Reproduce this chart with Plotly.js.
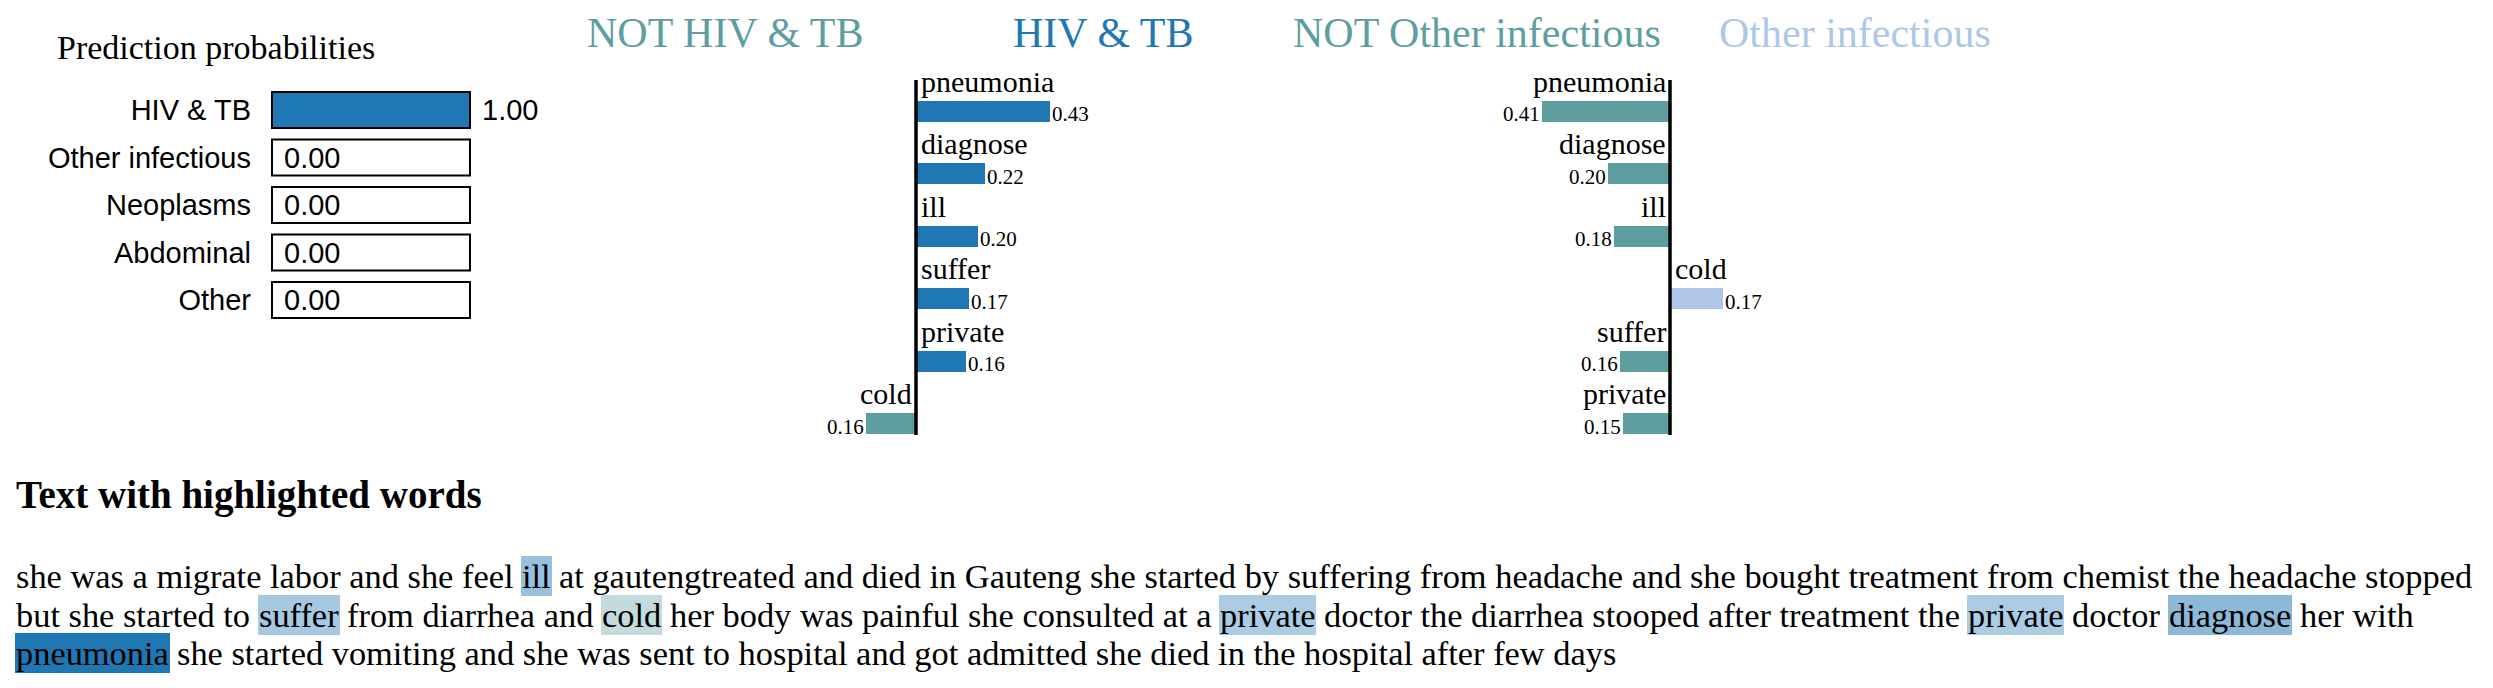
<!DOCTYPE html>
<html><head><meta charset="utf-8">
<script src="https://cdn.plot.ly/plotly-3.0.1.min.js"></script>
<style>html,body{margin:0;padding:0;background:#fff;overflow:hidden}#chart{width:2493px;height:688px;}</style>
</head><body><div id="chart"></div>
<script>
// ---------------- data ----------------
const classNames = ['HIV & TB', 'Other infectious', 'Neoplasms', 'Abdominal', 'Other'];
const classProbs = [1.00, 0.00, 0.00, 0.00, 0.00];

const hivTitles = ['NOT HIV & TB', 'HIV & TB'];
const hivWords = ['pneumonia', 'diagnose', 'ill', 'suffer', 'private', 'cold'];
const hivWeights = [0.43, 0.22, 0.20, 0.17, 0.16, -0.16];

const otherTitles = ['NOT Other infectious', 'Other infectious'];
const otherWords = ['pneumonia', 'diagnose', 'ill', 'cold', 'suffer', 'private'];
const otherWeights = [-0.41, -0.20, -0.18, 0.17, -0.16, -0.15];

const probTitle = 'Prediction probabilities';
const textTitle = 'Text with highlighted words';
const textLines = [
  'she was a migrate labor and she feel ill at gautengtreated and died in Gauteng she started by suffering from headache and she bought treatment from chemist the headache stopped',
  'but she started to suffer from diarrhea and cold her body was painful she consulted at a private doctor the diarrhea stooped after treatment the private doctor diagnose her with',
  'pneumonia she started vomiting and she was sent to hospital and got admitted she died in the hospital after few days'
];

// ---------------- styling / layout helpers ----------------
const W = 2493, H = 688;
const BLUE = '#1f77b4', TEAL = '#5f9ea0', LIGHT = '#aec7e8';
const SERIF = 'Liberation Serif', SANS = 'Liberation Sans';
const px2x = p => p / W;
const px2y = p => 1 - p / H;

// prediction probabilities block
const probBox = {left: 272, right: 470, top: 86, bottom: 324, firstCenter: 110, pitch: 47.5, barH: 36};
// explanation charts
const rows = {top: 80, bottom: 435, firstCenter: 111.5, pitch: 62.4, barH: 21};
const pxPerUnit = 312;
const chartA = {left: 600, right: 1230, zero: 916};
const chartB = {left: 1350, right: 1990, zero: 1670};

const traces = [];
const annotations = [];
const shapes = [];

// ---- prediction probabilities ----
traces.push({
  type: 'bar', orientation: 'h', x: classProbs, y: classNames,
  xaxis: 'x', yaxis: 'y', width: probBox.barH / probBox.pitch,
  marker: {color: BLUE, line: {color: '#000', width: 2}},
  hoverinfo: 'skip'
});
classNames.forEach((c, i) => {
  const hw = probBox.barH / probBox.pitch / 2;
  shapes.push({type: 'rect', layer: 'below', xref: 'x domain', yref: 'y',
    x0: 0, x1: 1, y0: i - hw, y1: i + hw,
    line: {color: '#000', width: 2}, fillcolor: '#fff'});
  annotations.push({xref: 'x', yref: 'y', x: classProbs[i], y: c, xanchor: 'left', yanchor: 'middle',
    xshift: 12, text: classProbs[i].toFixed(2), showarrow: false, borderpad: 0, borderwidth: 0,
    font: {family: SANS, size: 29, color: '#000'}});
});
annotations.push({xref: 'paper', yref: 'paper', x: px2x(57), y: px2y(59 + 0.216 * 34),
  xanchor: 'left', yanchor: 'bottom', text: probTitle, showarrow: false, borderpad: 0, borderwidth: 0,
  font: {family: SERIF, size: 34, color: '#000'}});

// ---- explanation charts ----
function explChart(words, weights, titles, posColor, negColor, ax, ay, pos) {
  traces.push({
    type: 'bar', orientation: 'h', x: weights, y: words,
    xaxis: ax, yaxis: ay, width: rows.barH / rows.pitch,
    marker: {color: weights.map(w => w >= 0 ? posColor : negColor), line: {width: 0}},
    hoverinfo: 'skip'
  });
  shapes.push({type: 'line', xref: ax, yref: ay + ' domain', x0: 0, x1: 0, y0: 0, y1: 1,
    line: {color: '#000', width: 3.5}});
  words.forEach((w, i) => {
    const v = weights[i];
    const positive = v >= 0;
    annotations.push({xref: ax, yref: ay, x: 0, y: w, xanchor: positive ? 'left' : 'right',
      yanchor: 'bottom', xshift: positive ? 5 : -4, yshift: 13.5, text: w, showarrow: false,
      borderpad: 0, borderwidth: 0, font: {family: SERIF, size: 30, color: '#000'}});
    annotations.push({xref: ax, yref: ay, x: v, y: w, xanchor: positive ? 'left' : 'right',
      yanchor: 'bottom', xshift: positive ? 2 : -2, yshift: -15, text: Math.abs(v).toFixed(2),
      showarrow: false, borderpad: 0, borderwidth: 0, font: {family: SERIF, size: 21, color: '#000'}});
  });
  const ty = px2y(47 + 0.216 * 42);
  annotations.push({xref: 'paper', yref: 'paper', x: px2x(pos[0]), y: ty, xanchor: 'left', yanchor: 'bottom',
    text: titles[0], showarrow: false, borderpad: 0, borderwidth: 0,
    font: {family: SERIF, size: 42, color: negColor}});
  annotations.push({xref: 'paper', yref: 'paper', x: px2x(pos[1]), y: ty, xanchor: 'left', yanchor: 'bottom',
    text: titles[1], showarrow: false, borderpad: 0, borderwidth: 0,
    font: {family: SERIF, size: 42, color: posColor}});
}
explChart(hivWords, hivWeights, hivTitles, BLUE, TEAL, 'x2', 'y2', [587, 1013]);
explChart(otherWords, otherWeights, otherTitles, LIGHT, TEAL, 'x3', 'y3', [1293, 1719]);

// ---- text with highlighted words ----
annotations.push({xref: 'paper', yref: 'paper', x: px2x(16), y: px2y(509 + 0.216 * 39),
  xanchor: 'left', yanchor: 'bottom', text: textTitle, showarrow: false, borderpad: 0, borderwidth: 0,
  font: {family: SERIF, size: 39, color: '#000', weight: 'bold'}});

const bodySize = 34.4, bodyLeft = 16, firstBaseline = 588, lineHeight = 38.5;
const ctx = document.createElement('canvas').getContext('2d');
ctx.font = bodySize + 'px "' + SERIF + '"';
const measure = s => ctx.measureText(s).width;
const maxAbs = Math.max(...hivWeights.map(Math.abs));
const weightOf = {};
hivWords.forEach((w, i) => weightOf[w] = hivWeights[i]);
function hlColor(v) {
  const a = (Math.abs(v) / maxAbs).toFixed(3);
  return v >= 0 ? 'rgba(31,119,180,' + a + ')' : 'rgba(95,158,160,' + a + ')';
}
textLines.forEach((line, li) => {
  const base = firstBaseline + li * lineHeight;
  const desc = 0.216 * bodySize;
  const words = line.split(' ');
  let prefix = '', runStart = '', run = [];
  const flush = () => {
    if (run.length) {
      annotations.push({xref: 'paper', yref: 'paper', x: px2x(bodyLeft + measure(runStart)),
        y: px2y(base + desc), xanchor: 'left', yanchor: 'bottom', text: run.join(' '),
        showarrow: false, borderpad: 0, borderwidth: 0,
        font: {family: SERIF, size: bodySize, color: '#000'}});
    }
    run = [];
  };
  words.forEach(w => {
    if (weightOf.hasOwnProperty(w)) {
      flush();
      annotations.push({xref: 'paper', yref: 'paper', x: px2x(bodyLeft + measure(prefix) - 1),
        y: px2y(base + desc + 1), xanchor: 'left', yanchor: 'bottom', text: w,
        showarrow: false, borderpad: 1, borderwidth: 0, bgcolor: hlColor(weightOf[w]),
        font: {family: SERIF, size: bodySize, color: '#000'}});
      prefix += w + ' ';
      runStart = prefix;
    } else {
      if (!run.length) runStart = prefix;
      run.push(w);
      prefix += w + ' ';
    }
  });
  flush();
});

// ---------------- layout ----------------
const hidden = {visible: false, showgrid: false, zeroline: false, fixedrange: true};
const layout = {
  width: W, height: H, margin: {l: 0, r: 0, t: 0, b: 0},
  paper_bgcolor: '#fff', plot_bgcolor: 'rgba(0,0,0,0)', showlegend: false,
  bargap: 0,
  xaxis: Object.assign({}, hidden, {domain: [px2x(probBox.left), px2x(probBox.right)], range: [0, 1], anchor: 'y'}),
  yaxis: {domain: [px2y(probBox.bottom), px2y(probBox.top)], anchor: 'x', type: 'category',
    range: [(probBox.bottom - probBox.firstCenter) / probBox.pitch, (probBox.top - probBox.firstCenter) / probBox.pitch],
    showgrid: false, zeroline: false, showline: false, ticks: '', ticklabelstandoff: 20,
    tickfont: {family: SANS, size: 29, color: '#000'}, fixedrange: true},
  xaxis2: Object.assign({}, hidden, {domain: [px2x(chartA.left), px2x(chartA.right)], anchor: 'y2',
    range: [(chartA.left - chartA.zero) / pxPerUnit, (chartA.right - chartA.zero) / pxPerUnit]}),
  yaxis2: Object.assign({}, hidden, {domain: [px2y(rows.bottom), px2y(rows.top)], anchor: 'x2', type: 'category',
    range: [(rows.bottom - rows.firstCenter) / rows.pitch, (rows.top - rows.firstCenter) / rows.pitch]}),
  xaxis3: Object.assign({}, hidden, {domain: [px2x(chartB.left), px2x(chartB.right)], anchor: 'y3',
    range: [(chartB.left - chartB.zero) / pxPerUnit, (chartB.right - chartB.zero) / pxPerUnit]}),
  yaxis3: Object.assign({}, hidden, {domain: [px2y(rows.bottom), px2y(rows.top)], anchor: 'x3', type: 'category',
    range: [(rows.bottom - rows.firstCenter) / rows.pitch, (rows.top - rows.firstCenter) / rows.pitch]}),
  shapes: shapes,
  annotations: annotations
};
Plotly.newPlot('chart', traces, layout, {displayModeBar: false, staticPlot: true});
</script>
</body></html>
